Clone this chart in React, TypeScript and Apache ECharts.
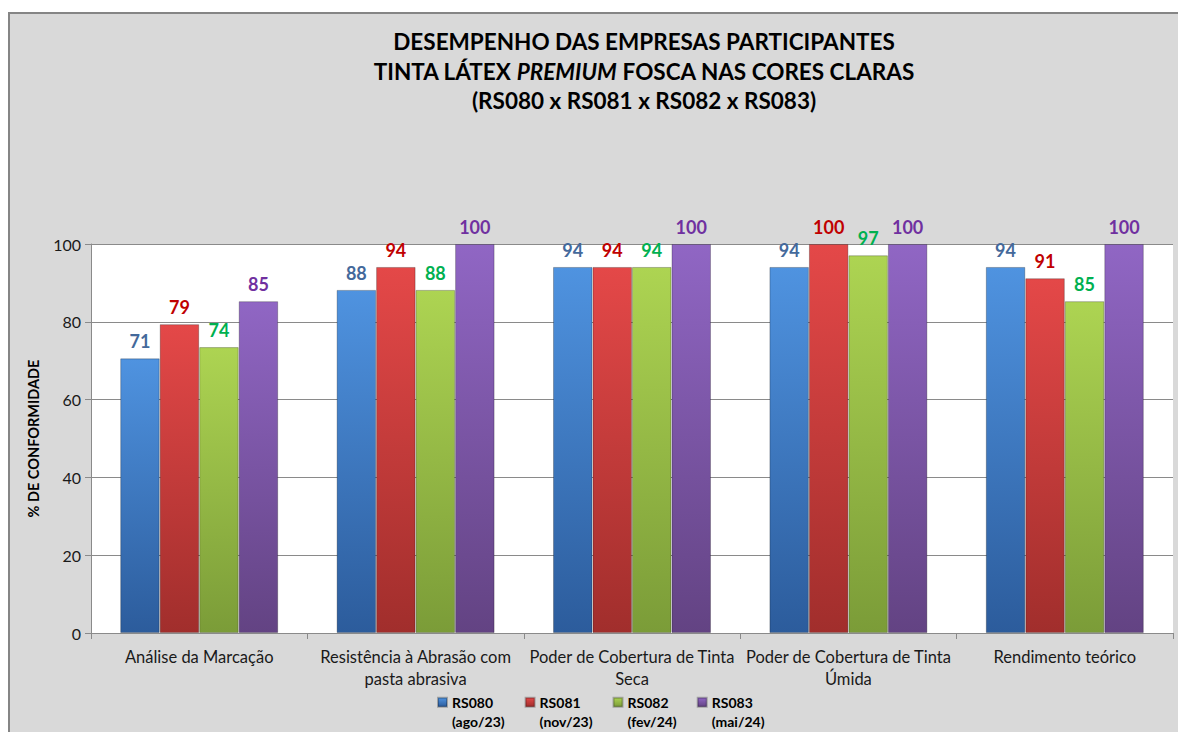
import React, { useEffect, useRef } from "react";
import * as echarts from "echarts";

const categories = [
  "Análise da Marcação",
  "Resistência à Abrasão com\npasta abrasiva",
  "Poder de Cobertura de Tinta\nSeca",
  "Poder de Cobertura de Tinta\nÚmida",
  "Rendimento teórico",
];
const seriesNames = ["RS080", "RS081", "RS082", "RS083"];
const periods = ["(ago/23)", "(nov/23)", "(fev/24)", "(mai/24)"];
const rs080 = [70.6, 88.2, 94.1, 94.1, 94.1];
const rs081 = [79.4, 94.1, 94.1, 100, 91.2];
const rs082 = [73.5, 88.2, 94.1, 97.1, 85.3];
const rs083 = [85.3, 100, 100, 100, 100];
const yMin = 0;
const yMax = 100;
const yInterval = 20;

const FONT = "Lato, 'Noto Sans', sans-serif";

const barColors = [
  ["#4F93E0", "#2C5C9C"],
  ["#E44848", "#A12E2C"],
  ["#ADD452", "#7B9C38"],
  ["#9066C4", "#634383"],
];
const labelColors = ["#44699B", "#C00000", "#00B050", "#7030A0"];

export default function App() {
  const ref = useRef<HTMLDivElement>(null);
  useEffect(() => {
    if (!ref.current) return;
    const chart = echarts.init(ref.current, undefined, { renderer: "svg" });
    const values = [rs080, rs081, rs082, rs083];
    const option: any = {
      animation: false,
      backgroundColor: "#D9D9D9",
      textStyle: { fontFamily: FONT },
      title: {
        left: 629,
        top: 8,
        textAlign: "center",
        text:
          "{a|DESEMPENHO DAS EMPRESAS PARTICIPANTES}\n{a|TINTA LÁTEX }{b|PREMIUM}{a| FOSCA NAS CORES CLARAS}\n{a|(RS080 x RS081 x RS082 x RS083)}",
        textStyle: {
          rich: {
            a: { fontFamily: FONT, fontSize: 22.5, fontWeight: "bold", color: "#000", lineHeight: 29.5 },
            b: { fontFamily: FONT, fontSize: 22.5, fontWeight: "bold", fontStyle: "italic", color: "#000", lineHeight: 29.5 },
          },
        },
      },
      legend: {
        left: 427,
        top: 659,
        padding: 0,
        itemWidth: 9,
        itemHeight: 9,
        itemGap: 20,
        icon: "rect",
        data: seriesNames,
        formatter: (name: string) => "\n" + name + "\n" + periods[seriesNames.indexOf(name)],
        textStyle: { fontFamily: FONT, fontSize: 14, fontWeight: "bold", color: "#000", lineHeight: 19.5 },
      },
      grid: {
        left: 81,
        right: 13,
        top: 230,
        bottom: 99,
        show: true,
        backgroundColor: "#FFFFFF",
        borderWidth: 0,
      },
      xAxis: {
        type: "category",
        data: categories,
        axisLine: { lineStyle: { color: "#8A8A8A", width: 1 } },
        axisTick: { show: true, alignWithLabel: false, length: 6, lineStyle: { color: "#8A8A8A" } },
        axisLabel: { fontFamily: FONT, fontSize: 16.5, color: "#1A1A1A", lineHeight: 22, margin: 13, interval: 0 },
      },
      yAxis: {
        type: "value",
        min: yMin,
        max: yMax,
        interval: yInterval,
        name: "% DE CONFORMIDADE",
        nameLocation: "middle",
        nameGap: 50,
        nameRotate: 90,
        nameTextStyle: { fontFamily: FONT, fontSize: 14.5, fontWeight: "bold", color: "#000" },
        axisLine: { show: true, lineStyle: { color: "#8A8A8A", width: 1 } },
        axisTick: { show: true, length: 6, lineStyle: { color: "#8A8A8A" } },
        axisLabel: { fontFamily: FONT, fontSize: 16, color: "#1A1A1A", margin: 10 },
        splitLine: { show: true, lineStyle: { color: "#8A8A8A", width: 1 } },
      },
      series: seriesNames.map((name, i) => ({
        name,
        type: "bar",
        data: values[i],
        barGap: "0%",
        barCategoryGap: "27%",
        itemStyle: {
          color: new echarts.graphic.LinearGradient(0, 0, 0, 1, [
            { offset: 0, color: barColors[i][0] },
            { offset: 1, color: barColors[i][1] },
          ]),
          borderColor: "rgba(0,0,0,0.25)",
          borderWidth: 1,
        },
        label: {
          show: true,
          position: "top",
          distance: 8,
          formatter: (p: any) => String(Math.round(p.value)),
          fontFamily: FONT,
          fontSize: 18,
          fontWeight: "bold",
          color: labelColors[i],
        },
      })),
    };
    chart.setOption(option);
    return () => chart.dispose();
  }, []);

  return (
    <div style={{ width: 1178, height: 724, overflow: "hidden", position: "relative" }}>
      <div
        style={{
          position: "absolute",
          left: 0,
          top: 4,
          width: 1200,
          height: 760,
          borderTop: "2px solid #858585",
          borderLeft: "2px solid #858585",
          background: "#D9D9D9",
        }}
      >
        <div ref={ref} style={{ width: 1176, height: 718 }} />
      </div>
    </div>
  );
}
